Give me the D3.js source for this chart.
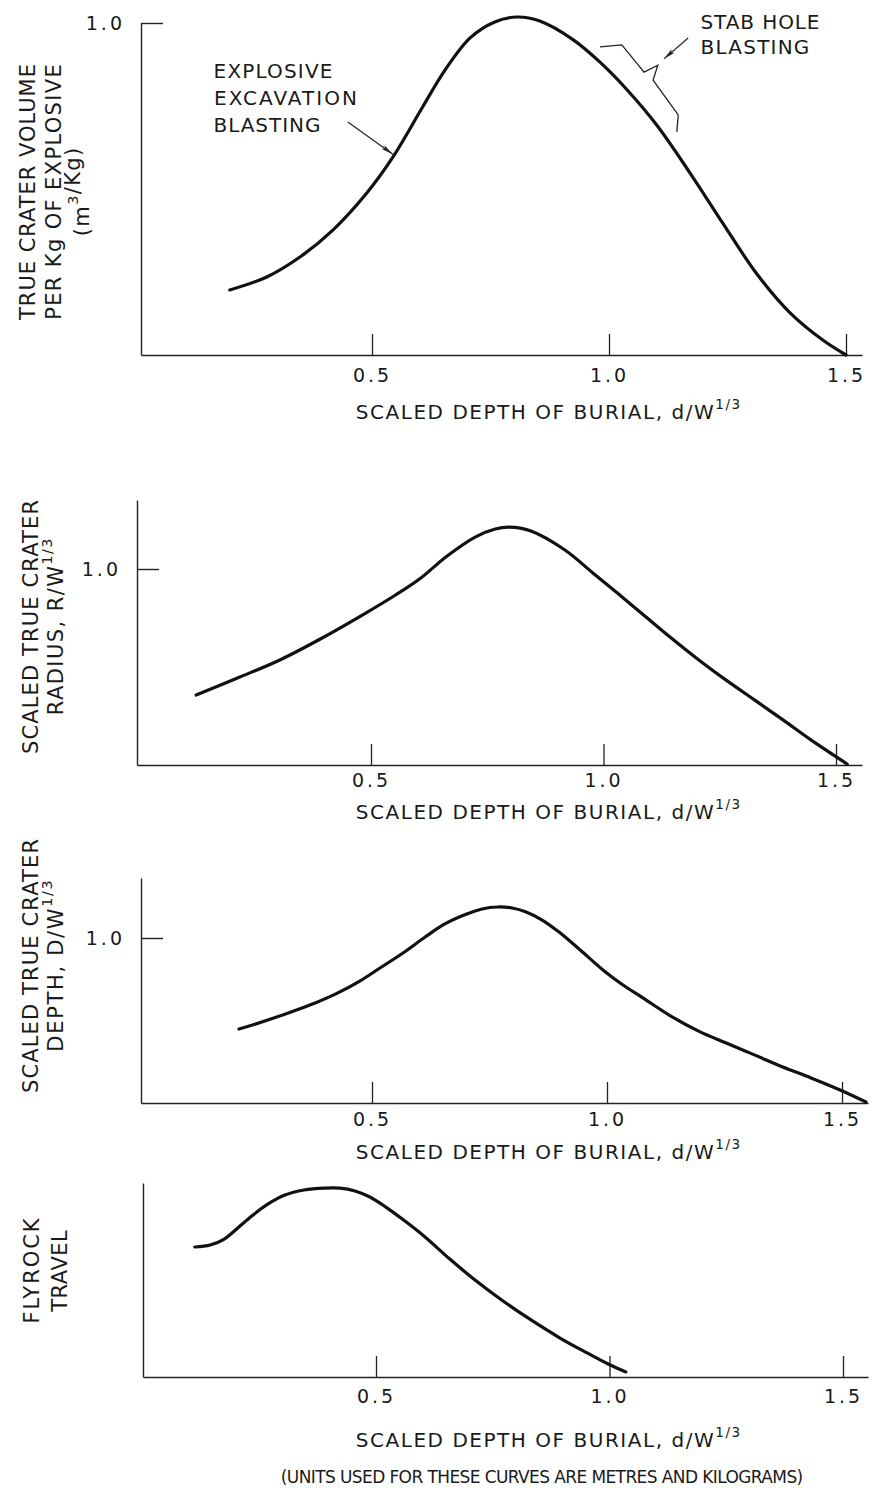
<!DOCTYPE html>
<html>
<head>
<meta charset="utf-8">
<script src="https://cdn.jsdelivr.net/npm/d3@7"></script>
<style>
  html, body { margin: 0; padding: 0; background: #fff; }
  svg { display: block; }
  text { font-family: "DejaVu Sans", "Noto Sans", sans-serif; fill: #1a1a1a; }
</style>
</head>
<body>
<svg id="chart" width="877" height="1497"></svg>
<script>
// ---- data -------------------------------------------------------------
const xTickValues = [0.5, 1.0, 1.5];
const yTickValues = [1.0];

// True crater volume per kg of explosive vs scaled depth of burial
const volumeDepth = [0.200, 0.278, 0.348, 0.418, 0.489, 0.544, 0.608, 0.654, 0.707, 0.759, 0.806, 0.854, 0.924, 0.981, 1.038, 1.101, 1.171, 1.241, 1.312, 1.382, 1.451, 1.500];
const volumeValue = [0.196, 0.235, 0.295, 0.377, 0.488, 0.596, 0.750, 0.858, 0.955, 1.003, 1.018, 1.006, 0.950, 0.882, 0.799, 0.692, 0.548, 0.395, 0.244, 0.127, 0.045, 0.000];

// Scaled true crater radius
const radiusDepth = [0.124, 0.218, 0.304, 0.395, 0.485, 0.552, 0.605, 0.663, 0.724, 0.767, 0.797, 0.844, 0.917, 0.977, 1.035, 1.085, 1.143, 1.205, 1.266, 1.326, 1.386, 1.446, 1.524];
const radiusValue = [0.357, 0.449, 0.536, 0.648, 0.770, 0.866, 0.950, 1.065, 1.163, 1.204, 1.214, 1.194, 1.097, 0.980, 0.867, 0.768, 0.653, 0.536, 0.429, 0.330, 0.230, 0.128, 0.005];

// Scaled true crater depth
const depthDepth = [0.217, 0.272, 0.328, 0.379, 0.423, 0.474, 0.517, 0.566, 0.613, 0.655, 0.696, 0.734, 0.768, 0.798, 0.828, 0.862, 0.898, 0.943, 0.994, 1.034, 1.077, 1.134, 1.196, 1.255, 1.315, 1.374, 1.434, 1.496, 1.551];
const depthValue = [0.448, 0.497, 0.552, 0.606, 0.661, 0.739, 0.818, 0.909, 1.006, 1.085, 1.139, 1.176, 1.188, 1.182, 1.158, 1.109, 1.036, 0.927, 0.800, 0.715, 0.636, 0.530, 0.434, 0.362, 0.290, 0.218, 0.152, 0.079, 0.006];

// Flyrock travel (relative)
const flyrockDepth = [0.112, 0.145, 0.175, 0.204, 0.234, 0.269, 0.305, 0.346, 0.389, 0.423, 0.455, 0.487, 0.521, 0.562, 0.605, 0.658, 0.712, 0.772, 0.832, 0.894, 0.952, 0.997, 1.035];
const flyrockValue = [0.670, 0.680, 0.711, 0.768, 0.830, 0.892, 0.938, 0.964, 0.974, 0.974, 0.959, 0.928, 0.876, 0.804, 0.722, 0.608, 0.500, 0.392, 0.294, 0.201, 0.124, 0.067, 0.026];

// ---- layout -------------------------------------------------------------
const svg = d3.select("#chart");
svg.append("rect").attr("width", 877).attr("height", 1497).attr("fill", "#fff");

const panels = [
  { depth: volumeDepth, value: volumeValue, axisX: 141, right: 862, top: 23, bottom: 355,
    t05: 372, t15: 846, y1: 23, yTick: true, tickPad: 14, titleY: 412,
    yLabel: [
      { parts: [{ t: "TRUE CRATER VOLUME" }], x: 28, len: 257 },
      { parts: [{ t: "PER Kg OF EXPLOSIVE" }], x: 54, len: 257 },
      { parts: [{ t: "(m" }, { t: "3", sup: true }, { t: "/Kg)" }], x: 82, len: 90 }
    ], yLabelY: 192 },
  { depth: radiusDepth, value: radiusValue, axisX: 137, right: 862, top: 500, bottom: 765,
    t05: 371, t15: 836, y1: 569, yTick: true, tickPad: 9, titleY: 812,
    yLabel: [
      { parts: [{ t: "SCALED TRUE CRATER" }], x: 31, len: 255 },
      { parts: [{ t: "RADIUS, R/W" }, { t: "1/3", sup: true }], x: 56, len: 178 }
    ], yLabelY: 627 },
  { depth: depthDepth, value: depthValue, axisX: 141, right: 868, top: 878, bottom: 1103,
    t05: 372, t15: 842, y1: 938, yTick: true, tickPad: 10, titleY: 1152,
    yLabel: [
      { parts: [{ t: "SCALED TRUE CRATER" }], x: 31, len: 255 },
      { parts: [{ t: "DEPTH, D/W" }, { t: "1/3", sup: true }], x: 56, len: 173 }
    ], yLabelY: 966 },
  { depth: flyrockDepth, value: flyrockValue, axisX: 143, right: 868, top: 1183, bottom: 1377,
    t05: 376, t15: 843, y1: 1183, yTick: false, tickPad: 13, titleY: 1440,
    yLabel: [
      { parts: [{ t: "FLYROCK" }], x: 32, len: 107 },
      { parts: [{ t: "TRAVEL" }], x: 60, len: 82 }
    ], yLabelY: 1271 }
];

// write text made of plain and superscript parts
function richText(sel, parts, size) {
  parts.forEach(p => {
    const ts = sel.append("tspan").text(p.t);
    if (p.sup) ts.attr("font-size", size * 0.68).attr("dy", -size * 0.42);
  });
  return sel;
}

// spread characters so the text spans the given width
function fitWidth(sel, target) {
  sel.each(function () {
    const n = this.getNumberOfChars();
    const w = this.getComputedTextLength();
    const ls = (target - w) / n;
    d3.select(this).attr("letter-spacing", ls.toFixed(2)).attr("dx", (ls / 2).toFixed(2));
  });
}

const line = d3.line().curve(d3.curveCatmullRom.alpha(0.5));
const scales = [];

panels.forEach(p => {
  const g = svg.append("g");
  const base = d3.scaleLinear().domain([0.5, 1.5]).range([p.t05, p.t15]);
  const x = d3.scaleLinear()
    .domain([base.invert(p.axisX), base.invert(p.right)])
    .range([p.axisX, p.right]);
  const yBase = d3.scaleLinear().domain([0, 1]).range([p.bottom, p.y1]);
  const y = d3.scaleLinear().domain([0, yBase.invert(p.top)]).range([p.bottom, p.top]);
  scales.push({ x, y });

  // x axis: ticks rise from the baseline
  const xAxis = d3.axisBottom(x).tickValues(xTickValues)
    .tickSizeInner(-21).tickSizeOuter(0).tickPadding(p.tickPad)
    .tickFormat(d3.format(".1f"));
  const gx = g.append("g").attr("transform", `translate(0,${p.bottom})`).call(xAxis);
  gx.select(".domain").attr("stroke", "#222").attr("stroke-width", 1.4);
  gx.selectAll(".tick line").attr("stroke", "#222").attr("stroke-width", 1.3);
  gx.selectAll(".tick text").attr("font-size", 19).attr("letter-spacing", 3)
    .attr("font-family", "DejaVu Sans").attr("fill", "#1a1a1a");

  // y axis
  const yAxis = d3.axisLeft(y).tickValues(p.yTick ? yTickValues : [])
    .tickSizeInner(-22).tickSizeOuter(0).tickPadding(16)
    .tickFormat(d3.format(".1f"));
  const gy = g.append("g").attr("transform", `translate(${p.axisX},0)`).call(yAxis);
  gy.select(".domain").attr("stroke", "#222").attr("stroke-width", 1.4);
  gy.selectAll(".tick line").attr("stroke", "#222").attr("stroke-width", 1.4);
  gy.selectAll(".tick text").attr("font-size", 19).attr("letter-spacing", 3)
    .attr("font-family", "DejaVu Sans").attr("fill", "#1a1a1a");

  // curve
  g.append("path")
    .datum(p.depth.map((d, i) => [x(d), y(p.value[i])]))
    .attr("d", line)
    .attr("fill", "none")
    .attr("stroke", "#111")
    .attr("stroke-width", 3.2)
    .attr("stroke-linecap", "round")
    .attr("stroke-linejoin", "round");

  // x title
  const title = g.append("text")
    .attr("x", 548).attr("y", p.titleY)
    .attr("text-anchor", "middle").attr("dominant-baseline", "central")
    .attr("font-size", 20);
  richText(title, [{ t: "SCALED DEPTH OF BURIAL, d/W" }, { t: "1/3", sup: true }], 20);
  fitWidth(title, 386);

  // y title lines
  p.yLabel.forEach(l => {
    const t = g.append("text")
      .attr("transform", `translate(${l.x},${p.yLabelY}) rotate(-90)`)
      .attr("text-anchor", "middle").attr("dominant-baseline", "central")
      .attr("font-size", 21);
    richText(t, l.parts, 21);
    fitWidth(t, l.len);
  });
});

// ---- annotations on the crater volume panel ---------------------------
const { x: vx, y: vy } = scales[0];

svg.append("defs").append("marker")
  .attr("id", "arrow").attr("viewBox", "0 0 12 6")
  .attr("refX", 12).attr("refY", 3)
  .attr("markerWidth", 12).attr("markerHeight", 6)
  .attr("markerUnits", "userSpaceOnUse")
  .attr("orient", "auto")
  .append("path").attr("d", "M0,0.6 L12,3 L0,5.4 L2.5,3 Z").attr("fill", "#222");

const annot = svg.append("g").attr("font-size", 20);
[["EXPLOSIVE", 71, 120], ["EXCAVATION", 98, 145], ["BLASTING", 125, 108]].forEach(([s, yy, w]) => {
  const t = annot.append("text").attr("x", 213).attr("y", yy)
    .attr("dominant-baseline", "central").text(s);
  fitWidth(t, w);
});
[["STAB HOLE", 22, 120], ["BLASTING", 47, 110]].forEach(([s, yy, w]) => {
  const t = annot.append("text").attr("x", 700).attr("y", yy)
    .attr("dominant-baseline", "central").text(s);
  fitWidth(t, w);
});

// leader toward the rising limb
annot.append("line")
  .attr("x1", vx(0.449)).attr("y1", vy(0.702))
  .attr("x2", vx(0.544)).attr("y2", vy(0.605))
  .attr("stroke", "#222").attr("stroke-width", 1.2)
  .attr("marker-end", "url(#arrow)");

// brace along the falling limb
const brace = [[0.981, 0.928], [1.027, 0.934], [1.074, 0.852], [1.103, 0.873],
               [1.093, 0.828], [1.146, 0.723], [1.143, 0.672]];
annot.append("path")
  .attr("d", d3.line()(brace.map(([a, b]) => [vx(a), vy(b)])))
  .attr("fill", "none").attr("stroke", "#222").attr("stroke-width", 1.3);

annot.append("line")
  .attr("x1", vx(1.167)).attr("y1", vy(0.955))
  .attr("x2", vx(1.116)).attr("y2", vy(0.892))
  .attr("stroke", "#222").attr("stroke-width", 1.2)
  .attr("marker-end", "url(#arrow)");

// ---- footnote -------------------------------------------------------------
const note = svg.append("text")
  .attr("x", 542).attr("y", 1477)
  .attr("text-anchor", "middle").attr("dominant-baseline", "central")
  .attr("font-family", "'Liberation Sans Narrow', 'DejaVu Sans Condensed', 'Liberation Sans', sans-serif")
  .attr("font-size", 17)
  .text("(UNITS USED FOR THESE CURVES ARE METRES AND KILOGRAMS)");
fitWidth(note, 522);
</script>
</body>
</html>
